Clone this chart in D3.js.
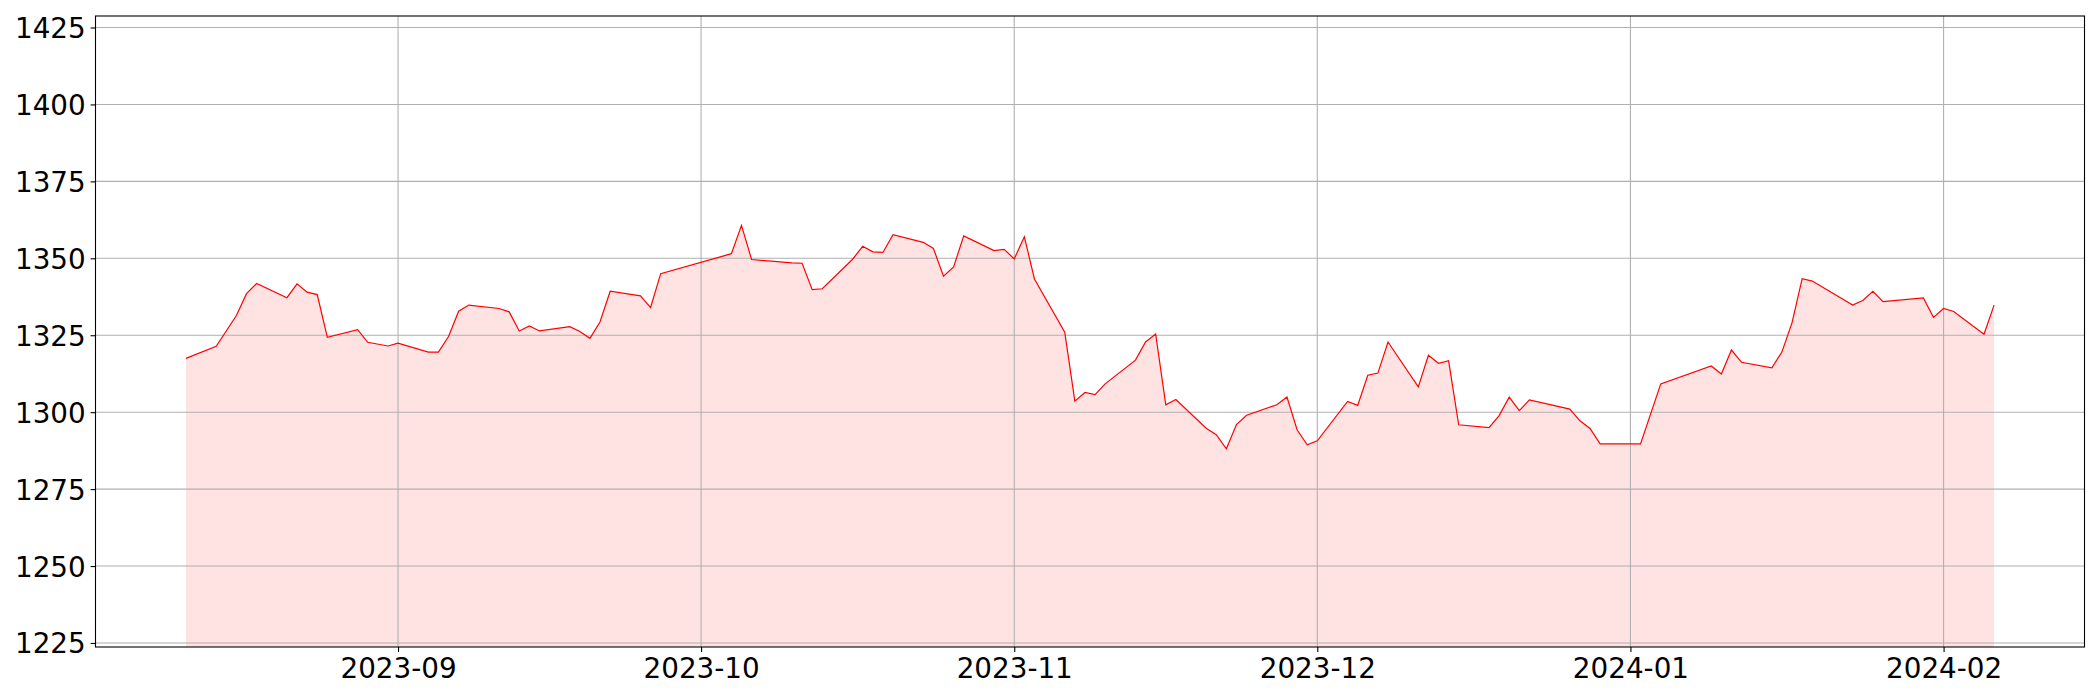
<!DOCTYPE html>
<html>
<head>
<meta charset="utf-8">
<script src="https://cdn.jsdelivr.net/npm/d3@7"></script>
<style>
  html, body { margin: 0; padding: 0; background: #fff; }
  svg { display: block; }
  text { font-family: "DejaVu Sans", sans-serif; }
</style>
</head>
<body>
<svg id="chart" width="2100" height="700"></svg>
<script>
// ---- data ----
const dates = [
  "2023-08-11","2023-08-14","2023-08-16","2023-08-17","2023-08-18",
  "2023-08-21","2023-08-22","2023-08-23","2023-08-24","2023-08-25",
  "2023-08-28","2023-08-29","2023-08-31","2023-09-01",
  "2023-09-04","2023-09-05","2023-09-06","2023-09-07","2023-09-08",
  "2023-09-11","2023-09-12","2023-09-13","2023-09-14","2023-09-15",
  "2023-09-18","2023-09-19","2023-09-20","2023-09-21","2023-09-22",
  "2023-09-25","2023-09-26","2023-09-27",
  "2023-10-04","2023-10-05","2023-10-06",
  "2023-10-10","2023-10-11","2023-10-12","2023-10-13",
  "2023-10-16","2023-10-17","2023-10-18","2023-10-19","2023-10-20",
  "2023-10-23","2023-10-24","2023-10-25","2023-10-26","2023-10-27",
  "2023-10-30","2023-10-31","2023-11-01","2023-11-02","2023-11-03",
  "2023-11-06","2023-11-07","2023-11-08","2023-11-09","2023-11-10",
  "2023-11-13","2023-11-14","2023-11-15","2023-11-16","2023-11-17",
  "2023-11-20","2023-11-21","2023-11-22","2023-11-23","2023-11-24",
  "2023-11-27","2023-11-28","2023-11-29","2023-11-30","2023-12-01",
  "2023-12-04","2023-12-05","2023-12-06","2023-12-07","2023-12-08",
  "2023-12-11","2023-12-12","2023-12-13","2023-12-14","2023-12-15",
  "2023-12-18","2023-12-19","2023-12-20","2023-12-21","2023-12-22",
  "2023-12-26","2023-12-27","2023-12-28","2023-12-29",
  "2024-01-02","2024-01-04",
  "2024-01-09","2024-01-10","2024-01-11","2024-01-12",
  "2024-01-15","2024-01-16","2024-01-17","2024-01-18","2024-01-19",
  "2024-01-23","2024-01-24","2024-01-25","2024-01-26",
  "2024-01-30","2024-01-31","2024-02-01","2024-02-02",
  "2024-02-05","2024-02-06"
];
const values = [
  1317.5,1321.4,1331.4,1338.5,1341.8,
  1337.2,1341.7,1339.0,1338.2,1324.3,
  1326.8,1322.7,1321.5,1322.4,
  1319.5,1319.5,1324.6,1332.8,1334.8,
  1333.7,1332.6,1326.4,1328.0,1326.4,
  1327.8,1326.2,1324.0,1329.4,1339.3,
  1337.8,1334.0,1345.0,
  1351.5,1360.7,1349.6,
  1348.5,1348.4,1339.8,1340.1,
  1349.7,1353.9,1352.1,1351.9,1357.7,
  1355.2,1353.2,1344.2,1347.2,1357.3,
  1352.5,1352.9,1349.8,1357.0,1343.3,
  1326.0,1303.6,1306.4,1305.7,1309.2,
  1316.9,1322.8,1325.4,1302.4,1304.1,
  1294.8,1292.7,1288.1,1296.0,1299.0,
  1302.4,1304.9,1294.3,1289.4,1290.7,
  1303.5,1302.2,1312.0,1312.7,1322.8,
  1308.2,1318.5,1315.9,1316.7,1295.9,
  1295.0,1298.9,1304.9,1300.5,1304.0,
  1301.0,1297.2,1294.7,1289.7,
  1289.7,1309.2,
  1315.0,1312.4,1320.2,1316.2,
  1314.4,1319.6,1329.1,1343.4,1342.6,
  1334.8,1336.3,1339.3,1335.9,
  1337.1,1330.8,1333.7,1332.7,
  1325.3,1334.8
];
const yTicks = [1225, 1250, 1275, 1300, 1325, 1350, 1375, 1400, 1425];
const xTickLabels = ["2023-09", "2023-10", "2023-11", "2023-12", "2024-01", "2024-02"];

// ---- chart ----
(function () {
const parse = d3.timeParse("%Y-%m-%d");
const data = dates.map((d, i) => ({ date: parse(d), value: values[i] }));

const W = 2100, H = 700;
const mLeft = 95.5, mRight = 2084.5, mTop = 16, mBottom = 647;

const t0 = data[0].date, t1 = data[data.length - 1].date;
const span = t1 - t0;
const x = d3.scaleTime()
  .domain([new Date(+t0 - 0.05 * span), new Date(+t1 + 0.05 * span)])
  .range([mLeft, mRight]);

const vmin = d3.min(values), vmax = d3.max(values);
const y = d3.scaleLinear()
  .domain([vmin * 0.95, vmax * 1.05])
  .range([mBottom, mTop]);

const svg = d3.select("#chart");
svg.append("rect").attr("width", W).attr("height", H).attr("fill", "#fff");

const clip = svg.append("defs").append("clipPath").attr("id", "plotclip");
clip.append("rect").attr("x", mLeft).attr("y", mTop).attr("width", mRight - mLeft).attr("height", mBottom - mTop);

const xTickDates = xTickLabels.map(s => d3.timeParse("%Y-%m")(s));
const fmt = d3.timeFormat("%Y-%m");

// fill
const area = d3.area()
  .x(d => x(d.date))
  .y0(y(y.domain()[0]))
  .y1(d => y(d.value));
svg.append("path")
  .datum(data)
  .attr("clip-path", "url(#plotclip)")
  .attr("d", area)
  .attr("fill", "#ff0000")
  .attr("fill-opacity", 0.11)
  .attr("stroke", "none");

// grid
const grid = svg.append("g").attr("clip-path", "url(#plotclip)");
grid.selectAll("line.gy").data(yTicks).enter().append("line")
  .attr("x1", mLeft).attr("x2", mRight)
  .attr("y1", d => y(d)).attr("y2", d => y(d))
  .attr("stroke", "#b0b0b0").attr("stroke-width", 1.1);
grid.selectAll("line.gx").data(xTickDates).enter().append("line")
  .attr("y1", mTop).attr("y2", mBottom)
  .attr("x1", d => x(d)).attr("x2", d => x(d))
  .attr("stroke", "#b0b0b0").attr("stroke-width", 1.1);

// line
const line = d3.line().x(d => x(d.date)).y(d => y(d.value));
svg.append("path")
  .datum(data)
  .attr("clip-path", "url(#plotclip)")
  .attr("d", line)
  .attr("fill", "none")
  .attr("stroke", "#ff0000")
  .attr("stroke-width", 1.2)
  .attr("stroke-linejoin", "miter");

// axes
const xAxis = d3.axisBottom(x)
  .tickValues(xTickDates)
  .tickFormat(fmt)
  .tickSize(4.9)
  .tickPadding(4.9);
const gx = svg.append("g").attr("transform", `translate(0,${mBottom})`).call(xAxis);
gx.select(".domain").remove();
gx.selectAll(".tick line").attr("stroke", "#000").attr("stroke-width", 1.1);
gx.selectAll(".tick text")
  .attr("font-family", "DejaVu Sans")
  .attr("font-size", 27.8)
  .attr("fill", "#000")
  .attr("dy", "0.76em");

const yAxis = d3.axisLeft(y)
  .tickValues(yTicks)
  .tickFormat(d3.format("d"))
  .tickSize(4.9)
  .tickPadding(4.9);
const gy = svg.append("g").attr("transform", `translate(${mLeft},0)`).call(yAxis);
gy.select(".domain").remove();
gy.selectAll(".tick line").attr("stroke", "#000").attr("stroke-width", 1.1);
gy.selectAll(".tick text")
  .attr("font-family", "DejaVu Sans")
  .attr("font-size", 27.8)
  .attr("fill", "#000")
  .attr("dy", "0.36em");

// frame
svg.append("rect")
  .attr("x", mLeft).attr("y", mTop)
  .attr("width", mRight - mLeft).attr("height", mBottom - mTop)
  .attr("fill", "none")
  .attr("stroke", "#000")
  .attr("stroke-width", 1.1);
})();
</script>
</body>
</html>
